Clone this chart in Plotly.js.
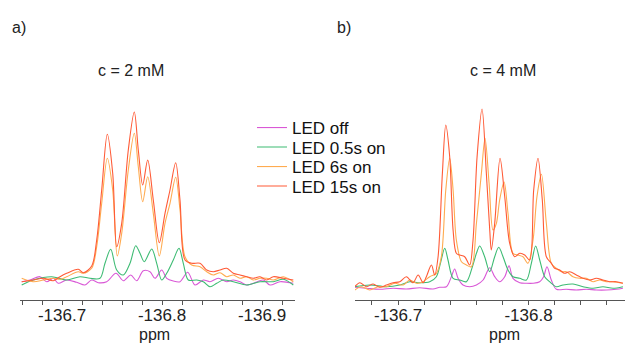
<!DOCTYPE html>
<html>
<head>
<meta charset="utf-8">
<script src="https://cdn.plot.ly/plotly-3.0.1.min.js"></script>
<style>html,body{margin:0;padding:0;background:#fff;}#chart{width:625px;height:354px;}</style>
</head>
<body>
<div id="chart"></div>
<script>
// ---------- Panel a) c = 2 mM ----------
const aOff_ppm = [-136.6597,-136.668,-136.678,-136.6847,-136.6913,-136.6963,-136.7047,-136.7147,-136.723,-136.7297,-136.7363,-136.7447,-136.754,-136.7613,-136.7687,-136.7747,-136.7813,-136.788,-136.793,-136.7997,-136.8047,-136.8113,-136.818,-136.8257,-136.833,-136.8413,-136.848,-136.8563,-136.8647,-136.8713,-136.878,-136.8847,-136.8913,-136.9013,-136.908,-136.918,-136.9313];
const aOff_int = [18.3,20,23.3,18.3,21.7,16.7,20,17.7,15,20,17.3,18.3,26.7,19.3,25,19.3,29.3,28.3,21.7,30,21.7,19,18.3,27.7,15,20,18.3,21.7,18.3,20,18.3,15,16.7,20,15,18.3,16.7];

const a05_ppm = [-136.6597,-136.6713,-136.6897,-136.7047,-136.718,-136.728,-136.738,-136.743,-136.7487,-136.7547,-136.7613,-136.768,-136.7737,-136.778,-136.7823,-136.7897,-136.7947,-136.7997,-136.8047,-136.8113,-136.817,-136.8213,-136.8263,-136.8347,-136.8413,-136.848,-136.8547,-136.8613,-136.8713,-136.8847,-136.898,-136.9113,-136.9213,-136.9313];
const a05_int = [15,20,23.3,20,23.3,21.7,21.7,36.7,50.7,30,25,36.7,54.3,46.7,38.3,51,36.7,20,26.7,40,51.7,36.7,20,20,18.3,13.3,16.7,20,18.3,15,18.3,18.3,20.7,15];

const a6_ppm = [-136.6597,-136.6713,-136.6813,-136.6913,-136.698,-136.7047,-136.7163,-136.7213,-136.7297,-136.7347,-136.7397,-136.7453,-136.7507,-136.7553,-136.7597,-136.7663,-136.7723,-136.7763,-136.7807,-136.7857,-136.7913,-136.7973,-136.803,-136.808,-136.8137,-136.818,-136.823,-136.8297,-136.838,-136.8447,-136.8513,-136.858,-136.8647,-136.8713,-136.878,-136.8847,-136.8913,-136.898,-136.9047,-136.9113,-136.9213,-136.9313];
const a6_int = [21.7,18.3,20,21.7,20.7,23.3,28.3,26.7,31.7,53.3,96.7,141.7,110,44,66.7,130,166.7,133.3,98.3,123.3,86.7,44,76.7,96.7,122.7,90,43.3,35,33.3,28.3,25,27.3,23.3,25,21.7,23.3,20,21.7,21.7,20,23.3,18.3];

const a15_ppm = [-136.6597,-136.6713,-136.6813,-136.6913,-136.698,-136.7047,-136.7163,-136.7213,-136.7297,-136.7347,-136.7397,-136.7453,-136.7507,-136.7547,-136.7597,-136.7663,-136.7723,-136.7763,-136.7807,-136.7857,-136.7913,-136.7973,-136.803,-136.808,-136.8137,-136.818,-136.823,-136.8297,-136.838,-136.8447,-136.8513,-136.858,-136.8647,-136.8713,-136.878,-136.8847,-136.8913,-136.898,-136.9047,-136.9113,-136.9213,-136.9313];
const a15_int = [18.3,20,21.7,19.3,23.3,26.7,30.7,27.3,34,60,110,165.7,126.7,53.3,76.7,150,188,150,115,140,100,57.3,86.7,110,137.3,100,40,36.7,36.7,30,28.3,30,31.7,26.7,25,23.3,21.7,23.3,20,23.3,21.7,20];

// ---------- Panel b) c = 4 mM ----------
const bOff_ppm = [-136.6668,-136.6758,-136.686,-136.6962,-136.7064,-136.7166,-136.7268,-136.732,-136.7371,-136.7409,-136.7434,-136.746,-136.7498,-136.7549,-136.7601,-136.7652,-136.7703,-136.7741,-136.7779,-136.7818,-136.7851,-136.7881,-136.7933,-136.7984,-136.8035,-136.8086,-136.8116,-136.8142,-136.8175,-136.8214,-136.829,-136.8367,-136.8443,-136.852,-136.8597,-136.8673,-136.8724];
const bOff_int = [12.7,11.7,10.7,11.7,11,12.3,11,12.7,13.3,23.3,31,21.7,15,13.3,15,20,32.3,23.3,18.3,23.3,34.3,21.7,17.3,16.7,16.7,18.3,23.3,33.3,20,10.7,10.7,10,10.7,10,10,10.7,11.7];

const b05_ppm = [-136.6668,-136.6783,-136.6911,-136.7013,-136.709,-136.7166,-136.7243,-136.7294,-136.7325,-136.7358,-136.7383,-136.7422,-136.7473,-136.7524,-136.757,-136.7601,-136.7626,-136.7664,-136.7703,-136.7741,-136.7772,-136.7805,-136.7843,-136.7881,-136.7933,-136.7984,-136.8022,-136.8055,-136.8086,-136.8124,-136.8162,-136.8214,-136.8265,-136.8341,-136.8418,-136.8495,-136.8571,-136.8648,-136.8724];
const b05_int = [13.3,15,13.3,15,18.3,17.3,18.3,23.3,36.7,51.7,40,21.7,20,18.3,33.3,46.7,54,43.3,28.3,43.3,52.7,43.3,30,23.3,21.7,20,36.7,54,40,23.3,18.3,13.3,15,16,13.3,11.7,13.3,11.7,13.3];

const b6_ppm = [-136.6668,-136.6719,-136.6783,-136.6847,-136.6911,-136.6975,-136.7039,-136.709,-136.7141,-136.7192,-136.7243,-136.7294,-136.7332,-136.7366,-136.7396,-136.7422,-136.7447,-136.7486,-136.7524,-136.7562,-136.7601,-136.7639,-136.7667,-136.7698,-136.7728,-136.7754,-136.7779,-136.7813,-136.7843,-136.7881,-136.792,-136.7958,-136.7996,-136.8035,-136.8065,-136.8099,-136.8137,-136.8175,-136.8214,-136.8252,-136.829,-136.8341,-136.8392,-136.8443,-136.8495,-136.8546,-136.8597,-136.8648,-136.8724];
const b6_int = [10,13.3,10,13.3,13.3,16.7,15,20,16.7,18.3,23.3,26.7,43.3,110,141.7,110,60,38.3,35,33.3,76.7,126.7,161.7,116.7,70,76.7,100,118,86.7,46.7,45,43.3,36.7,60,103.3,125.7,76.7,36.7,31.7,28.3,28.3,23.3,21.7,21.7,18.3,20,18.3,18.3,16.7];

const b15_ppm = [-136.6668,-136.6707,-136.6758,-136.6809,-136.686,-136.6911,-136.6962,-136.7013,-136.7064,-136.7115,-136.7154,-136.7192,-136.7217,-136.7256,-136.7281,-136.7307,-136.734,-136.7366,-136.7396,-136.7422,-136.7447,-136.7473,-136.7511,-136.7549,-136.7575,-136.7606,-136.7644,-136.7677,-136.7703,-136.7715,-136.7741,-136.7782,-136.7818,-136.7856,-136.7894,-136.7933,-136.7971,-136.8009,-136.804,-136.8073,-136.8106,-136.8137,-136.8175,-136.8201,-136.8239,-136.8277,-136.8316,-136.8367,-136.8418,-136.8469,-136.852,-136.8571,-136.8622,-136.8673,-136.8724];
const b15_int = [13.3,17.3,13.3,16,12.7,15,17.3,18.3,23.3,17.3,25,17.3,23.3,35,25,43.3,126.7,175,143.3,70,46.7,45,43.3,35,60,143.3,191,126.7,70,50,76.7,141.7,103.3,56.7,43.3,46.7,45,40,110,141.7,100,43.3,36.7,31.7,30,26.7,28.3,25,21.7,20,21.7,20,18.3,18.3,16.7];

const seriesNames = ["LED off", "LED 0.5s on", "LED 6s on", "LED 15s on"];
const tickValsA = [-136.7, -136.8, -136.9];
const tickTextA = ["-136.7", "-136.8", "-136.9"];
const tickValsB = [-136.7, -136.8];
const tickTextB = ["-136.7", "-136.8"];
const axisTitle = "ppm";

const colors = ["#d958d6", "#3dbb73", "#ffab50", "#ff5a36"];
const legendIds = ["legend", "legend2", "legend3", "legend4"];

const panelA = [[aOff_ppm, aOff_int], [a05_ppm, a05_int], [a6_ppm, a6_int], [a15_ppm, a15_int]];
const panelB = [[bOff_ppm, bOff_int], [b05_ppm, b05_int], [b6_ppm, b6_int], [b15_ppm, b15_int]];

const traces = [];
panelA.forEach((d, i) => {
  traces.push({x: d[0], y: d[1], xaxis: 'x', yaxis: 'y', type: 'scatter', mode: 'lines',
    name: seriesNames[i], legend: legendIds[i], showlegend: true,
    line: {color: colors[i], width: 1.1, shape: 'spline', smoothing: 0.9}});
});
panelB.forEach((d, i) => {
  traces.push({x: d[0], y: d[1], xaxis: 'x2', yaxis: 'y2', type: 'scatter', mode: 'lines',
    name: seriesNames[i], showlegend: false,
    line: {color: colors[i], width: 1.1, shape: 'spline', smoothing: 0.9}});
});

const font = {family: 'Liberation Sans, Arial, sans-serif', color: '#222'};
function xax(range, domain, tv, tt) {
  return {
    domain: domain, range: range, tickmode: 'array', tickvals: tv, ticktext: tt,
    showgrid: false, zeroline: false, showline: true, linecolor: '#555', linewidth: 1,
    ticks: 'outside', ticklen: 4, tickcolor: '#555', tickwidth: 1, ticklabelstandoff: -4,
    minor: {dtick: 0.02, tick0: -136.7, ticks: 'outside', ticklen: 4, tickcolor: '#555', showgrid: false},
    tickfont: {family: font.family, size: 17, color: '#222'},
    fixedrange: true
  };
}
const yax = (anchor) => ({range: [0, 200], visible: false, showgrid: false, zeroline: false, anchor: anchor});

const legendBase = (ypx) => ({
  x: (252 - 20) / 605, xanchor: 'left', y: (300 - ypx) / 200, yanchor: 'middle',
  bgcolor: 'rgba(0,0,0,0)', borderwidth: 0, itemwidth: 30,
  font: {family: font.family, size: 17, color: '#111'}
});

const px = (v) => (v - 20) / 605;
const py = (v) => (300 - v) / 200;
const ann = (text, x, y, anchor) => ({text: text, xref: 'paper', yref: 'paper', x: px(x), y: py(y),
  xanchor: anchor, yanchor: 'middle', showarrow: false, font: {size: 16, color: '#222'}});

const layout = {
  width: 625, height: 354,
  margin: {l: 20, r: 0, t: 100, b: 54},
  paper_bgcolor: '#fff', plot_bgcolor: '#fff',
  font: font,
  xaxis: xax([-136.658, -136.933], [0, px(295)], tickValsA, tickTextA),
  yaxis: yax('x'),
  xaxis2: Object.assign(xax([-136.667, -136.874], [px(355), 1], tickValsB, tickTextB), {anchor: 'y2'}),
  yaxis2: yax('x2'),
  legend: legendBase(128),
  legend2: legendBase(147.5),
  legend3: legendBase(167),
  legend4: legendBase(186.5),
  annotations: [
    ann('a)', 10, 28, 'left'),
    ann('b)', 335, 28, 'left'),
    ann('c = 2 mM', 131, 70, 'center'),
    ann('c = 4 mM', 503, 70, 'center'),
    ann(axisTitle, 154, 334, 'center'),
    ann(axisTitle, 504, 334, 'center')
  ]
};

Plotly.newPlot('chart', traces, layout, {displayModeBar: false, staticPlot: true});
</script>
</body>
</html>
